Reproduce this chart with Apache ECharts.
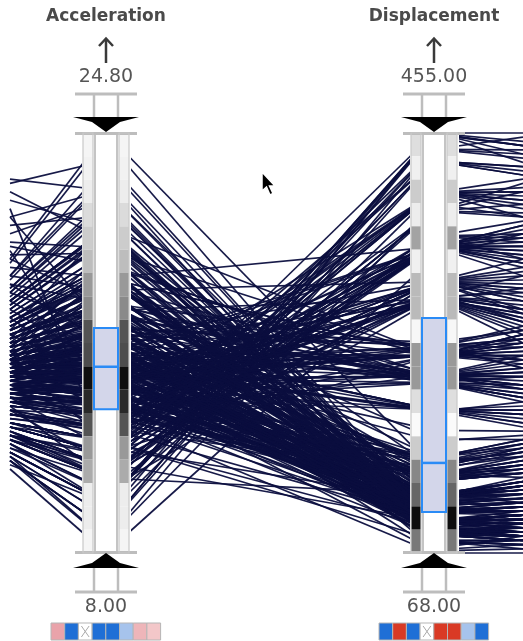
<!DOCTYPE html>
<html><head><meta charset="utf-8">
<script src="https://cdn.jsdelivr.net/npm/echarts@6/dist/echarts.min.js"></script>
<style>html,body{margin:0;padding:0;background:#fff}#c{width:523px;height:641px}</style>
</head><body><div id="c"></div><script>
// ---- data (one entry per car) ----
// value where each polyline leaves the view on the left (neighbouring axis, 0-100 of axis height)
const leftEdge = [
 30,27,25,28,26,24,22,22,21,23,
 26,20,23,24,29,27,31,33,35,30,
 32,36,34,38,40,33,31,37,41,39,
 34,38,28,32,43,40,36,45,47,33,
 27,29,23,24,28,30,26,22,31,29,
 37,35,30,40,42,36,37,28,39,48,
 40,41,42,43,39,44,49,45,37,35,
 42,46,39,38,43,47,53,46,42,50,
 41,45,43,38,34,41,44,46,44,51,
 39,40,43,49,40,36,45,38,47,41,
 44,40,58,55,52,42,47,50,38,66,
 56,47,60,41,53,54,49,39,44,45,
 51,57,43,37,61,69,46,40,49,63,
 43,48,52,38,55,42,51,46,62,44,
 41,47,59,45,49,53,55,46,42,70,
 43,36,51,46,42,56,62,45,54,48,
 40,44,50,37,58,44,52,46,39,65,
 43,47,54,40,50,60,38,46,54,44,
 88,84,80,76,72,68,82,74,64,70,
 52,48,46,35,40,37,45,34,89,86,
 44,46,41,43,47,48,44,39,46,42,
 41,43,45,49,44,40,47,43,38,46,
 40,43,41,39,45,44,40,37,43,42,
 28,30,24,33,31,22,27,30,35,25,
 53,56,60,50,57,63,52,48,55,51,
 41,44,37,46,42,43,50,33,40,45,
 45,40,44,48,36,42,47,39,51,44,
 42,46,44,38,49,43,47,40,55,59,
 43,40,46,39,44,49,41,47,36,43,
 30,33,29,37,31,24,35,27,38,30,
 62,66,71,58,60,73,78,56,80,64,
 43,46,42,50,45,38,48,40,53,44,
 38,41,33,44,31,40,37,45,35,28,
 60,56,52,66,58,36,34,39,46,50
];
const acceleration = [
 12.0,11.5,11.0,12.0,10.5,10.0,9.0,8.5,10.0,8.5,
 10.0,8.0,9.5,10.0,11.0,11.0,12.0,13.0,13.5,12.5,
 13.0,14.0,13.5,14.5,15.0,13.0,12.5,14.0,16.0,15.5,
 13.0,14.9,11.9,12.9,16.7,15.4,14.4,17.7,18.5,13.2,
 11.0,11.5,9.5,10.0,11.0,12.0,10.5,9.0,12.5,11.5,
 14.0,13.5,12.0,15.5,16.5,13.7,14.2,11.2,15.0,19.0,
 15.5,15.5,15.5,16.0,15.0,16.5,19.0,17.0,14.0,13.5,
 16.0,18.0,15.0,14.5,16.5,18.5,21.0,17.5,16.0,19.5,
 15.8,17.6,16.4,14.8,13.0,15.7,17.2,18.2,16.9,20.1,
 14.9,15.3,16.7,19.6,15.1,13.9,17.0,14.7,18.7,15.8,
 15.5,14.5,20.5,19.0,18.0,15.0,16.5,17.5,14.0,23.5,
 19.5,16.5,21.0,14.5,18.5,19.0,17.0,14.0,15.5,16.0,
 18.0,20.0,15.0,13.5,21.5,24.5,16.0,14.2,17.3,22.2,
 15.2,16.8,18.2,13.8,19.4,14.9,17.8,16.2,21.9,15.6,
 14.4,16.6,20.7,15.8,17.1,18.6,19.2,16.4,14.7,24.8,
 15.3,13.2,17.9,16.1,14.8,19.8,21.7,15.9,18.8,16.9,
 14.5,15.4,17.4,13.6,20.4,15.7,18.3,16.3,14.1,22.9,
 15.1,16.7,19.1,14.3,17.6,20.9,13.9,16.2,18.9,15.6,
 23.7,21.0,17.0,22.1,14.2,19.0,12.0,20.2,16.4,18.0,
 15.0,13.5,12.5,11.0,13.0,12.2,14.0,11.6,22.5,20.5,
 15.5,16.0,14.5,15.0,16.5,17.0,15.5,14.0,16.0,15.0,
 14.8,15.2,16.2,17.2,15.8,14.6,16.8,15.4,13.9,16.5,
 15.0,16.0,15.5,14.5,17.0,16.5,15.2,14.0,16.3,15.8,
 11.5,12.0,10.0,13.0,12.5,9.0,11.0,12.0,13.5,10.5,
 18.5,19.5,21.0,17.5,20.0,22.0,18.0,16.9,19.0,17.8,
 14.4,15.6,13.5,16.4,14.9,15.3,17.4,12.8,14.2,15.9,
 16.0,14.5,15.5,17.0,13.5,15.0,16.5,14.0,18.0,15.5,
 14.7,16.2,15.7,13.8,17.3,15.1,16.6,14.3,19.2,20.8,
 16.0,15.0,17.5,14.5,16.5,19.0,15.5,18.0,13.5,16.0,
 12.0,13.0,11.5,14.0,12.5,10.0,13.5,11.0,14.5,12.0,
 17.0,18.5,20.0,15.5,16.0,19.5,21.5,14.8,22.5,18.0,
 15.2,16.4,14.9,17.6,15.8,13.6,16.9,14.2,18.6,15.4,
 14.5,15.5,13.0,16.5,12.5,15.0,14.0,17.0,13.5,11.5,
 21.0,19.5,18.0,23.0,20.5,13.0,12.5,14.0,16.0,17.5
];
const displacement = [
 307,350,318,304,302,429,454,440,455,390,
 383,340,400,455,360,383,350,318,302,400,
 350,318,351,304,302,400,429,318,350,305,
 360,318,400,351,260,305,350,302,318,400,
 318,400,455,440,350,383,360,429,318,304,
 302,350,455,350,318,305,400,351,318,350,
 198,199,200,232,250,225,250,258,225,232,
 250,258,231,232,200,225,250,258,171,231,
 250,225,200,232,250,258,231,173,225,250,
 231,200,232,225,250,258,262,200,232,181,
 97,113,97,121,98,140,122,116,97,97,
 71,72,76,120,96,91,79,140,107,116,
 90,79,85,120,85,98,134,119,86,90,
 105,89,97,151,98,134,112,151,105,140,
 91,85,120,97,119,86,105,108,135,146,
 89,140,122,98,156,90,97,112,141,105,
 113,121,91,135,98,86,140,119,107,79,
 97,151,89,144,105,86,120,91,112,98,
 98,120,140,90,97,108,250,105,85,156,
 70,68,80,122,140,116,156,97,107,146,
 98,108,119,97,91,85,112,122,105,134,
 151,140,97,89,120,107,98,85,151,79,
 250,232,258,225,231,200,250,318,302,350,
 350,400,429,318,360,455,383,351,304,440,
 97,91,85,120,98,90,134,107,119,86,
 140,97,156,116,122,105,250,302,200,231,
 91,98,120,97,140,113,86,122,105,108,
 97,85,151,119,98,89,134,105,97,91,
 250,225,232,258,200,250,231,225,250,200,
 350,318,400,302,351,454,305,383,350,429,
 140,97,86,250,122,98,90,302,97,231,
 97,91,98,85,105,97,79,107,89,120,
 318,250,350,225,360,258,302,232,400,440,
 97,89,112,97,120,98,91,85,156,146
];
// value where each polyline leaves the view on the right (neighbouring axis, 0-100 of axis height)
const rightEdge = [
 55,78,70,66,57,90,97,99,95,80,
 86,76,82,93,70,88,68,58,52,85,
 75,68,72,58,63,86,91,61,70,56,
 79,66,84,75,44,58,73,50,60,80,
 63,87,100,94,77,81,74,90,67,62,
 54,71,97,69,64,59,83,76,57,71,
 36,30,35,42,47,38,45,49,40,46,
 52,44,41,47,33,40,50,54,28,43,
 49,37,31,45,52,46,39,27,42,51,
 44,34,40,36,48,50,53,32,39,29,
 10,14,6,15,8,19,12,16,5,9,
 2,4,3,17,6,5,1,22,11,13,
 4,3,7,18,5,10,20,14,6,8,
 9,5,7,24,8,19,12,26,10,21,
 4,3,15,9,16,5,11,12,20,25,
 6,23,14,8,27,4,7,13,22,10,
 13,16,6,21,9,5,18,15,10,2,
 8,23,5,24,11,4,17,7,12,9,
 8,16,20,6,7,12,48,10,4,26,
 1,0,3,17,21,14,25,9,11,23,
 7,11,14,9,5,4,12,16,10,19,
 25,22,8,5,15,11,9,4,24,2,
 46,40,51,37,43,33,49,63,55,74,
 72,84,92,65,76,98,83,73,60,95,
 6,5,3,16,9,4,19,10,14,5,
 20,8,26,13,17,10,50,56,33,42,
 5,8,15,9,21,13,4,17,10,12,
 7,3,24,15,8,5,19,10,7,5,
 50,38,44,53,34,47,42,39,52,31,
 73,62,86,55,69,97,58,80,66,92,
 20,9,4,46,15,7,5,53,8,40,
 6,4,9,3,11,8,2,10,5,16,
 60,47,78,37,75,51,57,43,89,96,
 8,5,12,6,16,7,4,3,27,25
];
// axis names, ranges and tick labels
const axisNames = ['Acceleration', 'Displacement'];
const axisMin = [8, 68];
const axisMax = [24.8, 455];
const maxLabels = ['24.80', '455.00'];
const minLabels = ['8.00', '68.00'];
// density of each histogram bin, top to bottom (0 = white, 1 = black)
const accBins  = [0.04,0.05,0.07,0.14,0.2,0.26,0.4,0.46,0.67,0.7,0.94,0.84,0.67,0.4,0.33,0.07,0.07,0.04];
const dispBins = [0.13,0.06,0.2,0.07,0.36,0.06,0.27,0.27,0.03,0.4,0.4,0.13,0.02,0.2,0.47,0.6,0.95,0.53];
// box plot: Q1, median, Q3
const accBox  = [13.75, 15.45, 17.0];
const dispBox = [105.8, 151, 284.5];
// colour swatches below each axis ('x' = excluded)
const accSwatches  = ['#e9a3aa','#1f6fd6','x','#1f6fd6','#1f6fd6','#a6c3ec','#eeb5b9','#f3c7c9'];
const dispSwatches = ['#1f6fd6','#d93a25','#1f6fd6','x','#d93a25','#d93a25','#a6c3ec','#1f6fd6'];

// ---- layout ----
const W = 523, H = 641;
const TOP = 133, BOTTOM = 553;
const AXX = [106, 434];
const EDGE_L = 10, EDGE_R = 523;
const LINE = '#0b0e3e';
const GRAY = '#bdbdbd';

function yOf(v, k) { return BOTTOM - (v - axisMin[k]) / (axisMax[k] - axisMin[k]) * (BOTTOM - TOP); }
function grey(d) { const g = Math.round(255 * (1 - d)); return 'rgb(' + g + ',' + g + ',' + g + ')'; }
function txt(x, y, s, font, fill) {
  return { type: 'text', x: x, y: y, z: 100,
    style: { text: s, font: font, fill: fill, align: 'center', verticalAlign: 'middle', textAlign: 'center', textVerticalAlign: 'middle' } };
}
function hline(x1, x2, y, w, c) { return { type: 'line', z: 100, shape: { x1: x1, y1: y, x2: x2, y2: y }, style: { stroke: c || GRAY, lineWidth: w || 3 } }; }
function vline(x, y1, y2, w, c) { return { type: 'line', z: 100, shape: { x1: x, y1: y1, x2: x, y2: y2 }, style: { stroke: c || GRAY, lineWidth: w || 2.5 } }; }

function axisDecor(k, bins, box, swatches) {
  const cx = AXX[k];
  const els = [];
  const font = '"DejaVu Sans", "Noto Sans", sans-serif';
  els.push(txt(cx, 17, axisNames[k], 'bold 17px ' + font, '#4a4a4a'));
  els.push({ type: 'polyline', z: 100, shape: { points: [[cx - 7, 46], [cx, 38.5], [cx + 7, 46]] }, style: { stroke: '#3a3a3a', lineWidth: 2.5, fill: null } });
  els.push(vline(cx, 39, 63, 2.5, '#3a3a3a'));
  els.push(txt(cx, 77, maxLabels[k], '19px ' + font, '#555'));
  els.push(hline(cx - 31, cx + 31, 94));
  els.push(vline(cx - 12, 94, 118));
  els.push(vline(cx + 12, 94, 118));
  els.push({ type: 'rect', z: 99, shape: { x: cx - 24, y: TOP, width: 49, height: BOTTOM - TOP }, style: { fill: '#fff' } });
  const n = bins.length, h = (BOTTOM - TOP) / n;
  bins.forEach(function (d, i) {
    els.push({ type: 'rect', z: 100, shape: { x: cx - 23, y: TOP + i * h, width: 10, height: h }, style: { fill: grey(d) } });
    els.push({ type: 'rect', z: 100, shape: { x: cx + 13, y: TOP + i * h, width: 10, height: h }, style: { fill: grey(d) } });
  });
  els.push({ type: 'rect', z: 101, shape: { x: cx - 23, y: TOP, width: 10, height: BOTTOM - TOP }, style: { fill: null, stroke: '#c8c8c8', lineWidth: 1.2 } });
  els.push({ type: 'rect', z: 101, shape: { x: cx + 13, y: TOP, width: 10, height: BOTTOM - TOP }, style: { fill: null, stroke: '#c8c8c8', lineWidth: 1.2 } });
  els.push({ type: 'rect', z: 100, shape: { x: cx - 11, y: TOP, width: 22, height: BOTTOM - TOP }, style: { fill: '#fff', stroke: '#c4c4c4', lineWidth: 2 } });
  const yq1 = yOf(box[0], k), ymed = yOf(box[1], k), yq3 = yOf(box[2], k);
  els.push({ type: 'rect', z: 102, shape: { x: cx - 12, y: yq3, width: 24, height: yq1 - yq3 }, style: { fill: '#d3d6ea', stroke: '#2a8bf6', lineWidth: 2 } });
  els.push({ type: 'line', z: 103, shape: { x1: cx - 12, y1: ymed, x2: cx + 12, y2: ymed }, style: { stroke: '#2a8bf6', lineWidth: 2.5 } });
  els.push({ type: 'polygon', z: 104, shape: { points: [[cx - 33, 117], [cx + 33, 117], [cx + 14, 122], [cx, 132], [cx - 14, 122]] }, style: { fill: '#000' } });
  els.push(hline(cx - 31, cx + 31, 133.5));
  els.push(hline(cx - 31, cx + 31, 552.5));
  els.push({ type: 'polygon', z: 104, shape: { points: [[cx - 33, 568], [cx + 33, 568], [cx + 14, 563], [cx, 553], [cx - 14, 563]] }, style: { fill: '#000' } });
  els.push(vline(cx - 12, 568, 592));
  els.push(vline(cx + 12, 568, 592));
  els.push(hline(cx - 31, cx + 31, 592));
  els.push(txt(cx, 607, minLabels[k], '19px ' + font, '#555'));
  const sw = 13.7, sx = cx - 55;
  swatches.forEach(function (c, i) {
    const x = sx + i * sw;
    els.push({ type: 'rect', z: 100, shape: { x: x, y: 623, width: sw, height: 17 }, style: { fill: c === 'x' ? '#fff' : c, stroke: '#b5b5b5', lineWidth: 1 } });
    if (c === 'x') {
      els.push({ type: 'line', z: 101, shape: { x1: x + 3, y1: 626, x2: x + sw - 3, y2: 637 }, style: { stroke: '#aaa', lineWidth: 1 } });
      els.push({ type: 'line', z: 101, shape: { x1: x + sw - 3, y1: 626, x2: x + 3, y2: 637 }, style: { stroke: '#aaa', lineWidth: 1 } });
    }
  });
  return els;
}

function hiddenAxis(dim, p, min, max) {
  return {
    dim: dim, parallelIndex: p, min: min, max: max, name: '',
    nameTextStyle: { fontSize: 0, color: 'rgba(0,0,0,0)' },
    axisLine: { show: false }, axisTick: { show: false },
    axisLabel: { show: false, fontSize: 0, color: 'rgba(0,0,0,0)' }
  };
}
function hiddenDefault() {
  return { name: '', axisLine: { show: false }, axisTick: { show: false },
    axisLabel: { show: false, fontSize: 0, color: 'rgba(0,0,0,0)' }, nameTextStyle: { fontSize: 0 } };
}

const chart = echarts.init(document.getElementById('c'), null, { renderer: 'canvas' });
function seriesOf(p, data) {
  return { type: 'parallel', parallelIndex: p, data: data, silent: true, animation: false, smooth: false, z: 2,
    lineStyle: { color: LINE, width: 1.7, opacity: 0.95 }, inactiveOpacity: 0.95, activeOpacity: 0.95 };
}

const cursor = { type: 'polygon', z: 200, x: 262, y: 172,
  shape: { points: [[0, 0], [0, 19], [4.5, 15], [8, 23], [11, 21.5], [7.5, 14], [13, 14]] },
  style: { fill: '#000', stroke: '#fff', lineWidth: 1.5 } };

chart.setOption({
  backgroundColor: '#fff',
  animation: false,
  parallel: [
    { left: EDGE_L, right: W - AXX[0], top: TOP, bottom: H - BOTTOM, parallelAxisDefault: hiddenDefault() },
    { left: AXX[0], right: W - AXX[1], top: TOP, bottom: H - BOTTOM, parallelAxisDefault: hiddenDefault() },
    { left: AXX[1], right: W - EDGE_R, top: TOP, bottom: H - BOTTOM, parallelAxisDefault: hiddenDefault() }
  ],
  parallelAxis: [
    hiddenAxis(0, 0, 0, 100),
    hiddenAxis(1, 0, axisMin[0], axisMax[0]),
    hiddenAxis(0, 1, axisMin[0], axisMax[0]),
    hiddenAxis(1, 1, axisMin[1], axisMax[1]),
    hiddenAxis(0, 2, axisMin[1], axisMax[1]),
    hiddenAxis(1, 2, 0, 100)
  ],
  series: [
    seriesOf(0, leftEdge.map(function (v, i) { return [v, acceleration[i]]; })),
    seriesOf(1, acceleration.map(function (v, i) { return [v, displacement[i]]; })),
    seriesOf(2, displacement.map(function (v, i) { return [v, rightEdge[i]]; }))
  ],
  graphic: { elements: [].concat(axisDecor(0, accBins, accBox, accSwatches), axisDecor(1, dispBins, dispBox, dispSwatches), [cursor]) }
});
</script></body></html>
